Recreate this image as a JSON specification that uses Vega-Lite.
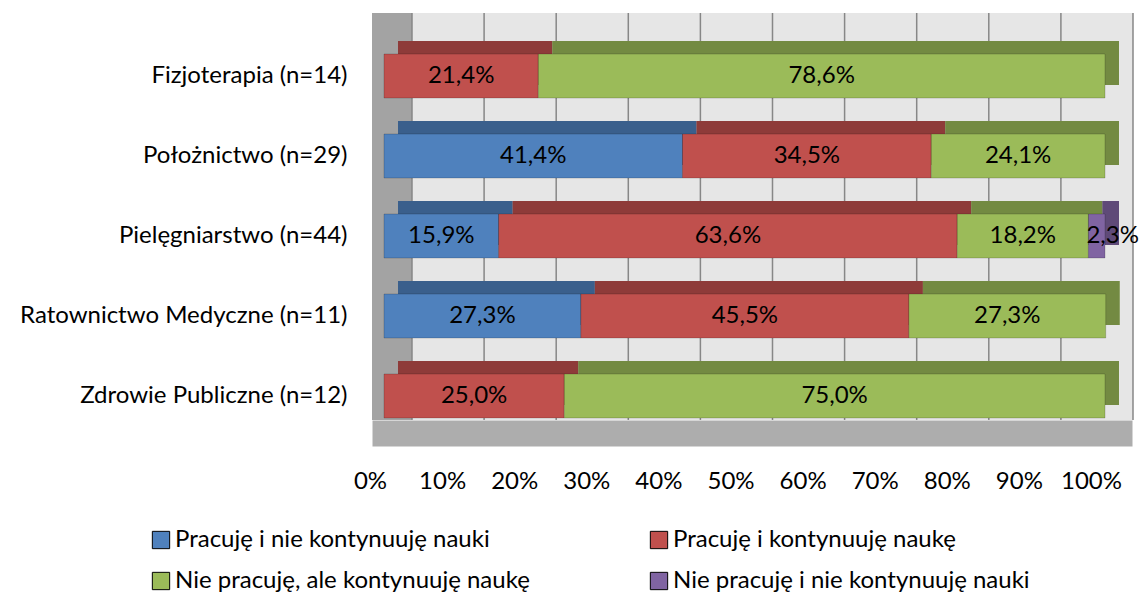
{
  "$schema": "https://vega.github.io/schema/vega-lite/v6.json",
  "autosize": "none",
  "width": 760,
  "height": 407,
  "padding": {"left": 372, "top": 13, "right": 7, "bottom": 172},
  "background": "white",
  "config": {
    "locale": {"number": {"decimal": ",", "thousands": " ", "grouping": [3], "currency": ["", " zł"]}},
    "view": {"fill": "#A3A3A3", "stroke": null},
    "font": "Lato"
  },
  "datasets": {
    "main": [
      {"kier": "Fizjoterapia (n=14)", "kat": "Pracuję i kontynuuję naukę", "k": 2, "v": 0.214},
      {"kier": "Fizjoterapia (n=14)", "kat": "Nie pracuję, ale kontynuuję naukę", "k": 3, "v": 0.786},
      {"kier": "Położnictwo (n=29)", "kat": "Pracuję i nie kontynuuję nauki", "k": 1, "v": 0.414},
      {"kier": "Położnictwo (n=29)", "kat": "Pracuję i kontynuuję naukę", "k": 2, "v": 0.345},
      {"kier": "Położnictwo (n=29)", "kat": "Nie pracuję, ale kontynuuję naukę", "k": 3, "v": 0.241},
      {"kier": "Pielęgniarstwo (n=44)", "kat": "Pracuję i nie kontynuuję nauki", "k": 1, "v": 0.159},
      {"kier": "Pielęgniarstwo (n=44)", "kat": "Pracuję i kontynuuję naukę", "k": 2, "v": 0.636},
      {"kier": "Pielęgniarstwo (n=44)", "kat": "Nie pracuję, ale kontynuuję naukę", "k": 3, "v": 0.182},
      {"kier": "Pielęgniarstwo (n=44)", "kat": "Nie pracuję i nie kontynuuję nauki", "k": 4, "v": 0.023},
      {"kier": "Ratownictwo Medyczne (n=11)", "kat": "Pracuję i nie kontynuuję nauki", "k": 1, "v": 0.273},
      {"kier": "Ratownictwo Medyczne (n=11)", "kat": "Pracuję i kontynuuję naukę", "k": 2, "v": 0.455},
      {"kier": "Ratownictwo Medyczne (n=11)", "kat": "Nie pracuję, ale kontynuuję naukę", "k": 3, "v": 0.273},
      {"kier": "Zdrowie Publiczne (n=12)", "kat": "Pracuję i kontynuuję naukę", "k": 2, "v": 0.25},
      {"kier": "Zdrowie Publiczne (n=12)", "kat": "Nie pracuję, ale kontynuuję naukę", "k": 3, "v": 0.75}
    ],
    "ticks": [
      {"t": 0}, {"t": 0.1}, {"t": 0.2}, {"t": 0.3}, {"t": 0.4}, {"t": 0.5},
      {"t": 0.6}, {"t": 0.7}, {"t": 0.8}, {"t": 0.9}, {"t": 1}
    ]
  },
  "layer": [
    {
      "data": {"values": [{}]},
      "mark": {"type": "rect", "fill": "#E6E6E6", "xOffset": 28, "x2Offset": 28},
      "encoding": {
        "x": {"datum": 0, "type": "quantitative", "scale": {"domain": [-0.01664, 1.03745], "nice": false, "zero": false}, "axis": {"values": [0, 0.1, 0.2, 0.3, 0.4, 0.5, 0.6, 0.7, 0.8, 0.9, 1], "format": ".0%", "title": null, "grid": false, "ticks": false, "tickSize": 0, "domain": true, "domainWidth": 26, "domainColor": "#ADADAD", "offset": 13, "labelFontSize": 24, "labelColor": "#000000", "labelPadding": 36, "labelOffset": -14, "labelFont": "Lato"}},
        "x2": {"datum": 1}
      }
    },
    {
      "data": {"name": "ticks"},
      "mark": {"type": "rule", "color": "#878787", "strokeWidth": 1.5, "xOffset": 28},
      "encoding": {"x": {"field": "t", "type": "quantitative"}}
    },
    {
      "data": {"name": "main"},
      "transform": [
        {"stack": "v", "groupby": ["kier"], "sort": [{"field": "k", "order": "ascending"}], "as": ["x0", "x1"]},
        {"calculate": "(datum.x0 + datum.x1) / 2", "as": "mid"}
      ],
      "encoding": {
        "y": {"field": "kier", "type": "nominal", "sort": ["Fizjoterapia (n=14)", "Położnictwo (n=29)", "Pielęgniarstwo (n=44)", "Ratownictwo Medyczne (n=11)", "Zdrowie Publiczne (n=12)"], "scale": {"paddingInner": 0.45, "paddingOuter": 0.269, "align": 0.953}, "axis": {"title": null, "ticks": false, "domain": false, "grid": false, "labelFontSize": 24, "labelColor": "#000000", "labelPadding": 25, "labelLimit": 500, "labelFont": "Lato"}}
      },
      "layer": [
        {
          "mark": {"type": "bar", "xOffset": 14, "x2Offset": 14, "yOffset": -13},
          "encoding": {
            "x": {"field": "x0", "type": "quantitative"},
            "x2": {"field": "x1"},
            "color": {"field": "kat", "type": "nominal", "scale": {"domain": ["Pracuję i nie kontynuuję nauki", "Pracuję i kontynuuję naukę", "Nie pracuję, ale kontynuuję naukę", "Nie pracuję i nie kontynuuję nauki"], "range": ["#4F81BD", "#C0504D", "#9BBB59", "#8064A2"]},
              "legend": {"orient": "none", "legendX": -223, "legendY": 515, "columns": 2, "columnPadding": 117, "rowPadding": 17, "title": null, "symbolType": "square", "symbolSize": 300, "symbolStrokeWidth": 1, "labelFontSize": 24, "labelColor": "#000000", "labelFont": "Lato", "labelLimit": 600, "labelOffset": 2,
                "values": ["Pracuję i nie kontynuuję nauki", "Nie pracuję, ale kontynuuję naukę", "Pracuję i kontynuuję naukę", "Nie pracuję i nie kontynuuję nauki"]}}
          }
        },
        {
          "mark": {"type": "bar", "xOffset": 14, "x2Offset": 14, "yOffset": -13, "fill": "#000000", "fillOpacity": 0.26},
          "encoding": {
            "x": {"field": "x0", "type": "quantitative"},
            "x2": {"field": "x1"}
          }
        },
        {
          "mark": {"type": "bar", "stroke": "#000000", "strokeOpacity": 0.18, "strokeWidth": 1},
          "encoding": {
            "x": {"field": "x0", "type": "quantitative"},
            "x2": {"field": "x1"},
            "color": {"field": "kat", "type": "nominal", "scale": {"domain": ["Pracuję i nie kontynuuję nauki", "Pracuję i kontynuuję naukę", "Nie pracuję, ale kontynuuję naukę", "Nie pracuję i nie kontynuuję nauki"], "range": ["#4F81BD", "#C0504D", "#9BBB59", "#8064A2"]},
              "legend": {"orient": "none", "legendX": -223, "legendY": 515, "columns": 2, "columnPadding": 117, "rowPadding": 17, "title": null, "symbolType": "square", "symbolSize": 300, "symbolStrokeWidth": 1, "labelFontSize": 24, "labelColor": "#000000", "labelFont": "Lato", "labelLimit": 600, "labelOffset": 2,
                "values": ["Pracuję i nie kontynuuję nauki", "Nie pracuję, ale kontynuuję naukę", "Pracuję i kontynuuję naukę", "Nie pracuję i nie kontynuuję nauki"]}}
          }
        },
        {
          "transform": [{"filter": "datum.k != 4"}],
          "mark": {"type": "text", "fontSize": 24, "color": "#000000", "font": "Lato"},
          "encoding": {
            "x": {"field": "mid", "type": "quantitative"},
            "text": {"field": "v", "type": "quantitative", "format": ".1%"}
          }
        },
        {
          "transform": [{"filter": "datum.k == 4"}],
          "mark": {"type": "text", "fontSize": 24, "color": "#000000", "font": "Lato", "dx": 16},
          "encoding": {
            "x": {"field": "mid", "type": "quantitative"},
            "text": {"field": "v", "type": "quantitative", "format": ".1%"}
          }
        }
      ]
    }
  ]
}
